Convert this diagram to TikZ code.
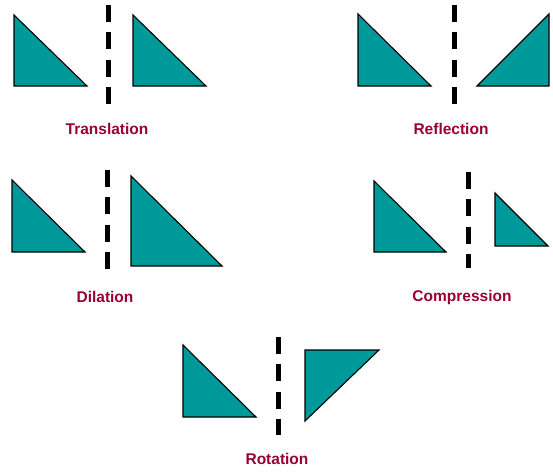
\documentclass[tikz,border=0pt]{standalone}
\usepackage{fontspec}
\setmainfont{Liberation Sans}
\definecolor{teal1}{RGB}{0,153,153}
\definecolor{lbl}{RGB}{153,0,51}
\begin{document}
\begin{tikzpicture}[x=1pt,y=-1pt,
  tri/.style={fill=teal1,draw=black,line width=1.1pt,line join=miter},
  axis/.style={draw=black,line width=5pt,dash pattern=on 17pt off 10.3pt},
  lab/.style={text=lbl,font=\fontsize{15.5}{15.5}\selectfont\bfseries,inner sep=0pt}]
\useasboundingbox (0,0) rectangle (553,471);
% Translation
\draw[tri] (14,15) -- (14,86) -- (87,86) -- cycle;
\draw[axis] (108,5) -- (108,104);
\draw[tri] (133,15) -- (133,86) -- (206,86) -- cycle;
\node[lab] (t1) at (107,129) {Translation};
% Reflection
\draw[tri] (358,14) -- (358,86) -- (431,86) -- cycle;
\draw[axis] (454,5) -- (454,104);
\draw[tri] (549,14) -- (549,86) -- (477,86) -- cycle;
\node[lab] (t2) at (451,129) {Reflection};
% Dilation
\draw[tri] (12,180) -- (12,252) -- (85,252) -- cycle;
\draw[axis] (107,170) -- (107,270);
\draw[tri] (131,176) -- (131,266) -- (222,266) -- cycle;
\node[lab] (t3) at (105,297) {Dilation};
% Compression
\draw[tri] (374,181) -- (374,252) -- (446,252) -- cycle;
\draw[axis] (468,172) -- (468,268);
\draw[tri] (495,193) -- (495,246) -- (548,246) -- cycle;
\node[lab] (t4) at (462,297) {Compression};
% Rotation
\draw[tri] (183,345) -- (183,417) -- (256,417) -- cycle;
\draw[axis] (278,337) -- (278,435);
\draw[tri] (305,350) -- (379,350) -- (305,421) -- cycle;
\node[lab] (t5) at (277,459) {Rotation};
\end{tikzpicture}
\end{document}
